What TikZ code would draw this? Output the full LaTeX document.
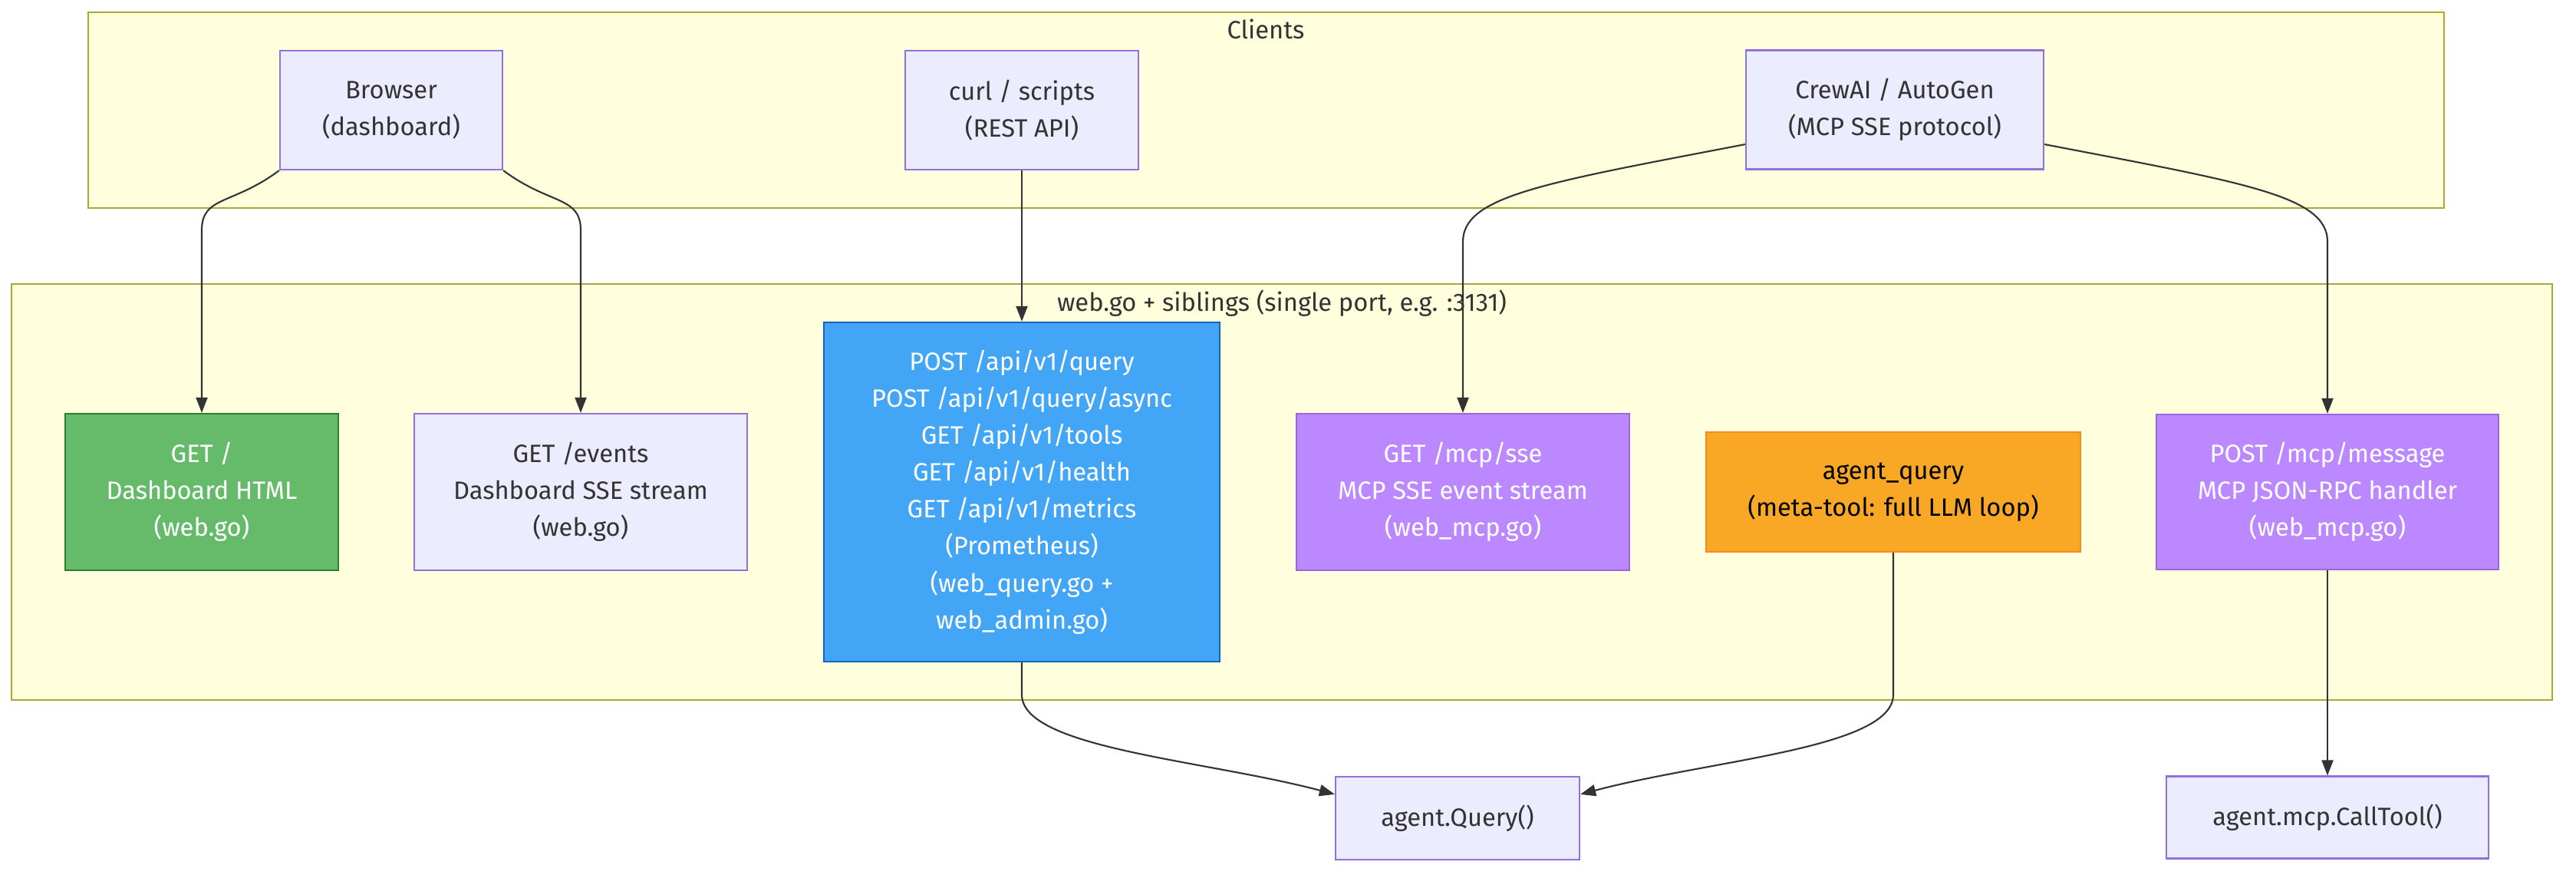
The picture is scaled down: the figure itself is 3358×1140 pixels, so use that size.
\documentclass[tikz,border=0pt]{standalone}
\usepackage{fontspec}
\setmainfont{Fira Sans}
\usepackage{tikz}
\usetikzlibrary{arrows.meta}
\definecolor{grpfill}{HTML}{FFFFDE}
\definecolor{grpline}{HTML}{AAAA33}
\definecolor{nodefill}{HTML}{ECECFF}
\definecolor{nodeline}{HTML}{9370DB}
\definecolor{txt}{HTML}{333333}
\definecolor{greenfill}{HTML}{66BB6A}
\definecolor{greenline}{HTML}{2E7D32}
\definecolor{bluefill}{HTML}{42A5F5}
\definecolor{blueline}{HTML}{1565C0}
\definecolor{purplefill}{HTML}{BB88FF}
\definecolor{purpleline}{HTML}{9966DD}
\definecolor{orangefill}{HTML}{F9A826}
\definecolor{orangeline}{HTML}{F58A1F}

\begin{document}
\begin{tikzpicture}[x=0.01cm, y=-0.01cm,
    every node/.style={font=\fontsize{9.3}{13.7}\selectfont, text=txt, align=center, inner sep=0pt},
    group/.style={draw=grpline, fill=grpfill, line width=0.6pt},
    box/.style={draw=nodeline, fill=nodefill, line width=0.6pt},
    greenbox/.style={draw=greenline, fill=greenfill, text=white, line width=0.6pt},
    bluebox/.style={draw=blueline, fill=bluefill, text=white, line width=0.6pt},
    purplebox/.style={draw=purpleline, fill=purplefill, text=white, line width=0.6pt},
    orangebox/.style={draw=orangeline, fill=orangefill, text=black, line width=0.6pt},
    flow/.style={draw=txt, line width=0.6pt, -{Triangle[length=0.2cm, width=0.15cm]}}]
    \useasboundingbox (0,0) rectangle (3358,1140);
    % groups
    \node[group, minimum width=30.69cm, minimum height=2.55cm] (clients) at (1650.5,143.5) {};
    \node (clientslbl) at (1650,38) {Clients};
    \node[group, minimum width=33.10cm, minimum height=5.42cm] (web) at (1671,641) {};
    \node (weblbl) at (1671,395) {web.go + siblings (single port, e.g. :3131)};
    % clients
    \node[box, minimum width=2.90cm, minimum height=1.55cm] (browser) at (510,143.5) {Browser\\(dashboard)};
    \node[box, minimum width=3.04cm, minimum height=1.55cm] (curl) at (1332,143.5) {curl / scripts\\(REST API)};
    \node[box, minimum width=3.88cm, minimum height=1.55cm] (crew) at (2470,143) {CrewAI / AutoGen\\(MCP SSE protocol)};
    % handlers
    \node[greenbox, minimum width=3.56cm, minimum height=2.04cm] (dash) at (263,641) {GET /\\Dashboard HTML\\(web.go)};
    \node[box, minimum width=4.34cm, minimum height=2.04cm] (events) at (757,641) {GET /events\\Dashboard SSE stream\\(web.go)};
    \node[bluebox, minimum width=5.16cm, minimum height=4.42cm] (rest) at (1332,641)
        {POST /api/v1/query\\POST /api/v1/query/async\\GET /api/v1/tools\\GET /api/v1/health\\GET /api/v1/metrics\\(Prometheus)\\(web\_query.go +\\web\_admin.go)};
    \node[purplebox, minimum width=4.34cm, minimum height=2.04cm] (sse) at (1907,641) {GET /mcp/sse\\MCP SSE event stream\\(web\_mcp.go)};
    \node[orangebox, minimum width=4.88cm, minimum height=1.56cm] (metatool) at (2468,641) {agent\_query\\(meta-tool: full LLM loop)};
    \node[purplebox, minimum width=4.46cm, minimum height=2.02cm] (message) at (3034,641) {POST /mcp/message\\MCP JSON-RPC handler\\(web\_mcp.go)};
    % agent calls
    \node[box, minimum width=3.18cm, minimum height=1.08cm] (query) at (1900,1066) {agent.Query()};
    \node[box, minimum width=4.19cm, minimum height=1.07cm] (calltool) at (3034,1065) {agent.mcp.CallTool()};
    \coordinate (topbend) at (0,300);
    \coordinate (crewbend) at (0,315);
    \coordinate (lowbend) at (0,905);
    % edges
    \draw[flow] (browser.south west) .. controls +(-60,45) and +(0,-45) .. (dash.north |- topbend) -- (dash.north);
    \draw[flow] (browser.south east) .. controls +(60,45) and +(0,-45) .. (events.north |- topbend) -- (events.north);
    \draw[flow] (curl.south) -- (rest.north);
    \draw[flow] (crew.193) .. controls +(-260,50) and +(0,-60) .. (sse.north |- crewbend) -- (sse.north);
    \draw[flow] (crew.-13) .. controls +(260,50) and +(0,-60) .. (message.north |- crewbend) -- (message.north);
    \draw[flow] (rest.south) -- (rest.south |- lowbend) .. controls +(0,70) and +(-170,-45) .. (query.169);
    \draw[flow] (metatool.south) -- (metatool.south |- lowbend) .. controls +(0,70) and +(170,-45) .. (query.11);
    \draw[flow] (message.south) -- (calltool.north);
\end{tikzpicture}
\end{document}
